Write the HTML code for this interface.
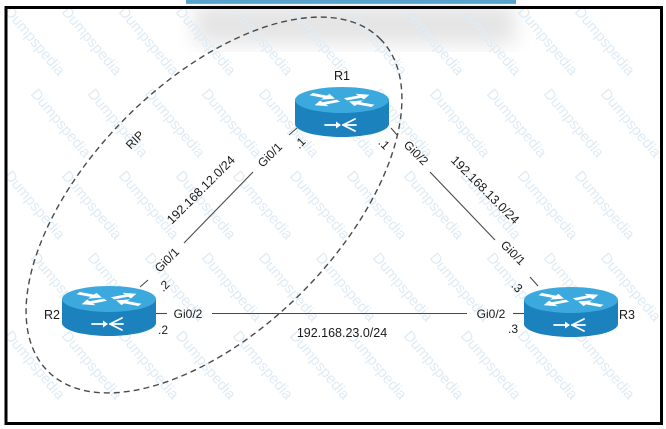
<!DOCTYPE html>
<html>
<head>
<meta charset="utf-8">
<style>
  html, body { margin: 0; padding: 0; background: #ffffff; }
  body { width: 666px; height: 429px; overflow: hidden; position: relative; }
  svg { position: absolute; left: 0; top: 0; overflow: hidden; display: block; }
  .lbl { font-family: "Liberation Sans", Arial, sans-serif; font-size: 12px; fill: #1a1a1a; }
  .wm { font-family: "Liberation Sans", Arial, sans-serif; font-size: 15px; fill: #dfebf5; }
</style>
</head>
<body>
<svg width="666" height="429" viewBox="0 0 666 429" xmlns="http://www.w3.org/2000/svg">
  <defs>
    <filter id="blur" x="-20%" y="-20%" width="140%" height="140%">
      <feGaussianBlur stdDeviation="10"/>
    </filter>
    <clipPath id="clip"><rect x="0" y="0" width="666" height="429"/></clipPath>
    <g id="rt">
      <path d="M-47,0 V24 A47,13 0 0 0 47,24 V0 Z" fill="#1b82be"/>
      <ellipse cx="0" cy="0" rx="47" ry="13" fill="#3ca9de"/>
      <g transform="scale(1,0.36)" fill="#ffffff">
        <polygon transform="rotate(-28) translate(4,0)" points="0,-3.5 16,-3.5 16,-9 27,0 16,9 16,3.5 0,3.5"/>
        <polygon transform="rotate(152) translate(4,0)" points="0,-3.5 16,-3.5 16,-9 27,0 16,9 16,3.5 0,3.5"/>
        <polygon transform="rotate(-152) translate(35,0) rotate(180)" points="0,-3.5 16,-3.5 16,-9 27,0 16,9 16,3.5 0,3.5"/>
        <polygon transform="rotate(28) translate(35,0) rotate(180)" points="0,-3.5 16,-3.5 16,-9 27,0 16,9 16,3.5 0,3.5"/>
      </g>
      <g stroke="#ffffff" stroke-width="1.8" fill="none" stroke-linecap="round">
        <line x1="-17" y1="25" x2="-5" y2="25"/>
        <line x1="1" y1="25" x2="13" y2="19"/>
        <line x1="1" y1="25" x2="14" y2="25"/>
        <line x1="1" y1="25" x2="13" y2="31"/>
      </g>
      <polygon points="-6,21.5 -1,25 -6,28.5" fill="#ffffff"/>
    </g>
  </defs>

  <g clip-path="url(#clip)">
  <!-- top shadow -->
  <rect x="195" y="4" width="320" height="40" fill="#e4e4e4" filter="url(#blur)"/>

  <!-- watermark -->
  <g class="wm">
    <text transform="translate(4,12) rotate(50)">Dumpspedia</text>
    <text transform="translate(61,12) rotate(50)">Dumpspedia</text>
    <text transform="translate(118,12) rotate(50)">Dumpspedia</text>
    <text transform="translate(175,12) rotate(50)">Dumpspedia</text>
    <text transform="translate(232,12) rotate(50)">Dumpspedia</text>
    <text transform="translate(289,12) rotate(50)">Dumpspedia</text>
    <text transform="translate(346,12) rotate(50)">Dumpspedia</text>
    <text transform="translate(403,12) rotate(50)">Dumpspedia</text>
    <text transform="translate(460,12) rotate(50)">Dumpspedia</text>
    <text transform="translate(517,12) rotate(50)">Dumpspedia</text>
    <text transform="translate(574,12) rotate(50)">Dumpspedia</text>

    <text transform="translate(30,94) rotate(50)">Dumpspedia</text>
    <text transform="translate(87,94) rotate(50)">Dumpspedia</text>
    <text transform="translate(144,94) rotate(50)">Dumpspedia</text>
    <text transform="translate(201,94) rotate(50)">Dumpspedia</text>
    <text transform="translate(258,94) rotate(50)">Dumpspedia</text>
    <text transform="translate(315,94) rotate(50)">Dumpspedia</text>
    <text transform="translate(372,94) rotate(50)">Dumpspedia</text>
    <text transform="translate(429,94) rotate(50)">Dumpspedia</text>
    <text transform="translate(486,94) rotate(50)">Dumpspedia</text>
    <text transform="translate(543,94) rotate(50)">Dumpspedia</text>
    <text transform="translate(600,94) rotate(50)">Dumpspedia</text>

    <text transform="translate(4,176) rotate(50)">Dumpspedia</text>
    <text transform="translate(61,176) rotate(50)">Dumpspedia</text>
    <text transform="translate(118,176) rotate(50)">Dumpspedia</text>
    <text transform="translate(175,176) rotate(50)">Dumpspedia</text>
    <text transform="translate(232,176) rotate(50)">Dumpspedia</text>
    <text transform="translate(289,176) rotate(50)">Dumpspedia</text>
    <text transform="translate(346,176) rotate(50)">Dumpspedia</text>
    <text transform="translate(403,176) rotate(50)">Dumpspedia</text>
    <text transform="translate(460,176) rotate(50)">Dumpspedia</text>
    <text transform="translate(517,176) rotate(50)">Dumpspedia</text>
    <text transform="translate(574,176) rotate(50)">Dumpspedia</text>

    <text transform="translate(30,258) rotate(50)">Dumpspedia</text>
    <text transform="translate(87,258) rotate(50)">Dumpspedia</text>
    <text transform="translate(144,258) rotate(50)">Dumpspedia</text>
    <text transform="translate(201,258) rotate(50)">Dumpspedia</text>
    <text transform="translate(258,258) rotate(50)">Dumpspedia</text>
    <text transform="translate(315,258) rotate(50)">Dumpspedia</text>
    <text transform="translate(372,258) rotate(50)">Dumpspedia</text>
    <text transform="translate(429,258) rotate(50)">Dumpspedia</text>
    <text transform="translate(486,258) rotate(50)">Dumpspedia</text>
    <text transform="translate(543,258) rotate(50)">Dumpspedia</text>
    <text transform="translate(600,258) rotate(50)">Dumpspedia</text>

    <text transform="translate(4,336) rotate(50)">Dumpspedia</text>
    <text transform="translate(61,336) rotate(50)">Dumpspedia</text>
    <text transform="translate(118,336) rotate(50)">Dumpspedia</text>
    <text transform="translate(175,336) rotate(50)">Dumpspedia</text>
    <text transform="translate(232,336) rotate(50)">Dumpspedia</text>
    <text transform="translate(289,336) rotate(50)">Dumpspedia</text>
    <text transform="translate(346,336) rotate(50)">Dumpspedia</text>
    <text transform="translate(403,336) rotate(50)">Dumpspedia</text>
    <text transform="translate(460,336) rotate(50)">Dumpspedia</text>
    <text transform="translate(517,336) rotate(50)">Dumpspedia</text>
    <text transform="translate(574,336) rotate(50)">Dumpspedia</text>
  </g>

  <rect x="186" y="0" width="330" height="3" fill="#58a3c9"/>
  <rect x="186" y="3" width="330" height="1" fill="#8aa6b5"/>

  <!-- frame -->
  <rect x="6" y="7.5" width="655.5" height="416" fill="none" stroke="#000000" stroke-width="3"/>

  <!-- RIP dashed ellipse (pre-rotated path) -->
  <path d="M380.17,38.83 C428.59,87.25 393.46,200.90 301.68,292.68 C209.90,384.46 96.25,419.59 47.83,371.17 C-0.59,322.75 34.54,209.10 126.32,117.32 C218.10,25.54 331.75,-9.59 380.17,38.83 Z" fill="none" stroke="#4a4a4a" stroke-width="1.4" stroke-dasharray="6,4"/>

  <!-- links -->
  <g stroke="#4a4a4a" stroke-width="1.1" fill="none">
    <line x1="184" y1="243" x2="253" y2="172"/>
    <line x1="289" y1="135" x2="297" y2="128"/>
    <line x1="140" y1="287" x2="148" y2="280"/>

    <line x1="430" y1="172" x2="495" y2="240"/>
    <line x1="391" y1="128" x2="397" y2="135"/>
    <line x1="530" y1="277" x2="538" y2="286"/>

    <line x1="212" y1="313.5" x2="467" y2="313.5"/>
    <line x1="156" y1="313.5" x2="167" y2="313.5"/>
    <line x1="513" y1="313.5" x2="524" y2="313.5"/>
  </g>

  <!-- routers -->
  <use href="#rt" x="342" y="100"/>
  <use href="#rt" x="109" y="299"/>
  <use href="#rt" x="571" y="300"/>

  <!-- labels -->
  <g class="lbl" text-anchor="middle">
    <text x="342" y="80" font-size="12.5">R1</text>
    <text x="52" y="319" font-size="12.5">R2</text>
    <text x="627" y="319" font-size="12.5">R3</text>

    <text transform="translate(135,140) rotate(-45)" dy="4">RIP</text>
    <text transform="translate(201,190) rotate(-45)" dy="4" font-size="12.5">192.168.12.0/24</text>
    <text transform="translate(270,155) rotate(-45)" dy="4">Gi0/1</text>
    <text transform="translate(300,143) rotate(-45)" dy="4">.1</text>
    <text transform="translate(167,260) rotate(-45)" dy="4">Gi0/1</text>
    <text transform="translate(164,286) rotate(-45)" dy="4">.2</text>

    <text x="163" y="334">.2</text>
    <text x="188" y="318">Gi0/2</text>
    <text x="342" y="337" font-size="12.5">192.168.23.0/24</text>
    <text x="491" y="318">Gi0/2</text>
    <text x="513" y="333">.3</text>

    <text transform="translate(517,287) rotate(45)" dy="4">.3</text>
    <text transform="translate(513,253) rotate(45)" dy="4">Gi0/1</text>
    <text transform="translate(485,190) rotate(45)" dy="4" font-size="12.5">192.168.13.0/24</text>
    <text transform="translate(416,153) rotate(45)" dy="4">Gi0/2</text>
    <text transform="translate(384,144) rotate(45)" dy="4">.1</text>
  </g>
  </g>
</svg>
</body>
</html>
